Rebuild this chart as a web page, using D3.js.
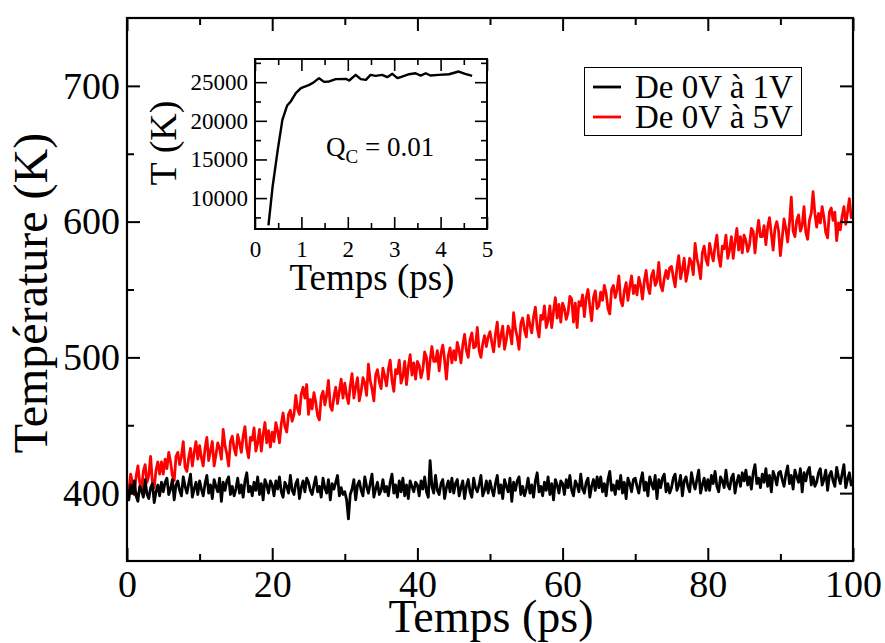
<!DOCTYPE html>
<html><head><meta charset="utf-8">
<script src="https://cdn.jsdelivr.net/npm/d3@7"></script>
<style>
body{margin:0;background:#fff}
svg{display:block}
svg text{font-family:"Liberation Serif","Times New Roman",serif !important}
</style>
</head><body>
<svg id="chart" width="885" height="643"></svg>
<script>
// ---- Data ----
const seriesNames = ["De 0V à 1V", "De 0V à 5V"];
const seriesColors = ["#000000", "#ff0000"];
// sampling grid: one sample every 0.25 ps from 0 to 100 ps
const timePs = d3.range(401).map(i => i * 0.25);
const temp1V = [
403,395,406,400,409,398,394,405,402,397,410,399,396,404,407,393,401,406,398,408,
401,408,411,399,403,410,395,406,409,402,398,412,405,400,407,414,397,403,408,399,
409,403,398,407,413,400,406,396,410,405,401,411,394,408,402,409,412,399,405,398,
403,411,400,406,397,409,415,401,405,398,408,402,412,399,407,395,410,406,400,409,
406,398,409,403,412,401,397,408,405,400,413,402,399,407,410,396,404,409,401,411,
408,402,399,406,412,401,405,397,411,404,400,410,395,407,403,408,413,398,404,399,
401,395,381,399,403,410,395,406,409,402,398,412,405,400,407,414,397,403,408,399,
402,410,401,405,398,408,414,400,406,397,409,401,411,398,406,396,409,405,401,408,
406,398,409,403,412,401,397,424,405,400,413,402,399,407,410,396,404,409,401,411,
400,407,410,398,404,409,396,405,410,401,397,411,404,401,406,413,398,402,409,400,
409,403,398,407,413,400,406,396,410,405,401,411,394,408,402,409,412,399,405,398,
403,411,400,406,397,409,415,401,405,398,408,402,412,399,407,395,410,406,400,409,
407,399,410,404,413,402,398,409,406,401,414,403,400,408,411,397,405,410,402,412,
404,412,401,407,398,410,416,402,406,399,409,403,413,400,408,396,411,407,401,410,
411,405,400,409,415,402,408,398,412,407,403,413,396,410,404,411,414,401,407,400,
404,411,414,402,406,413,398,409,412,405,401,415,408,403,410,417,400,406,411,402,
410,402,413,407,416,405,401,412,409,404,417,406,403,411,414,400,408,413,405,415,
409,417,406,412,403,415,421,407,411,404,414,408,418,405,413,401,416,412,406,415,
416,410,405,414,420,407,413,403,417,412,408,418,401,415,409,416,419,406,412,405,
408,415,418,406,410,417,402,413,416,409,405,419,412,407,414,421,404,410,415,406,
409
];
const temp5V = [
398,401,414,408,399,412,420,408,403,416,421,408,413,427,408,404,417,423,414,423,
414,425,418,430,423,413,409,427,430,421,427,438,419,416,426,433,420,430,438,425,
435,426,420,433,441,424,431,438,420,428,437,433,425,447,435,429,420,438,442,433,
428,443,437,430,442,449,433,426,441,439,448,431,437,447,431,443,452,437,446,434,
445,438,452,446,437,451,459,449,445,458,461,453,458,472,462,458,473,478,470,480,
458,469,462,474,467,457,454,471,475,465,472,483,464,461,471,478,466,475,484,470,
481,472,466,479,488,470,478,485,468,475,485,481,472,495,483,477,468,487,491,482,
477,492,486,479,491,498,483,475,491,488,498,481,486,497,480,493,502,487,496,484,
497,494,485,491,504,500,484,498,508,497,497,505,490,503,509,498,484,501,507,496,
505,498,511,505,496,509,517,505,500,513,518,507,508,522,505,500,510,516,508,515,
519,511,504,517,526,508,516,523,506,513,523,519,510,533,521,515,506,525,529,520,
515,531,524,518,530,537,522,515,531,528,538,522,527,538,522,534,544,529,539,526,
540,536,528,533,545,543,526,540,522,541,538,546,530,544,550,538,527,544,549,536,
538,548,542,553,547,536,532,550,553,544,550,560,542,538,549,555,542,552,560,547,
553,546,559,553,543,556,564,552,547,560,564,553,556,570,553,549,558,564,558,566,
567,559,552,566,575,558,565,573,556,563,573,570,561,584,573,567,558,577,582,572,
568,584,577,571,582,590,574,567,582,580,590,573,579,589,573,585,595,579,589,577,
590,586,578,583,595,593,577,591,601,589,589,597,583,596,603,591,579,595,600,593,
575,588,602,595,585,599,618,593,589,601,605,593,597,611,592,587,601,606,622,606,
596,606,599,611,603,592,588,607,610,601,607,586,599,594,604,611,598,607,617,603,
608
];
const insetTime = [0.29,0.38,0.49,0.59,0.69,0.77,0.88,0.99,1.17,1.27,1.38,1.49,1.6,1.74,1.96,2.03,2.17,2.28,2.39,2.49,2.6,2.74,2.85,2.96,3.07,3.17,3.32,3.46,3.57,3.68,3.78,3.96,4.18,4.39,4.53,4.68];
const insetTemp = [6470,11500,16250,20130,21940,22500,23580,24220,24650,25000,25520,25040,25090,25390,25430,25215,25950,25390,25300,25950,25820,25950,25650,26080,25520,25730,26030,26160,25860,26160,25860,25950,26030,26380,26080,25820];
const mainXTicks = [0,20,40,60,80,100];
const mainXMinor = [10,30,50,70,90];
const mainYTicks = [400,500,600,700];
const mainYMinor = [450,550,650];
const insetXTicks = [0,1,2,3,4,5];
const insetXMinor = [0.5,1.5,2.5,3.5,4.5];
const insetYTicks = [10000,15000,20000,25000];
const insetYMinor = [7500,12500,17500,22500,27500];

// ---- Drawing ----
const FONT = '"Liberation Serif", "Times New Roman", serif';
const svg = d3.select("#chart");

function frameAxes(g, x, y, opt) {
  const [x0, x1] = x.range(), [y0, y1] = y.range();
  const groups = [
    {ax: () => d3.axisBottom(x), tr: `translate(0,${y0})`, lab: true, maj: opt.xMajor, min: opt.xMinor, pad: opt.xPad, fmt: opt.xFmt},
    {ax: () => d3.axisTop(x), tr: `translate(0,${y1})`, lab: false, maj: opt.xMajor, min: opt.xMinor, pad: 0, fmt: null},
    {ax: () => d3.axisLeft(y), tr: `translate(${x0},0)`, lab: true, maj: opt.yMajor, min: opt.yMinor, pad: opt.yPad, fmt: opt.yFmt},
    {ax: () => d3.axisRight(y), tr: `translate(${x1},0)`, lab: false, maj: opt.yMajor, min: opt.yMinor, pad: 0, fmt: null},
  ];
  groups.forEach(s => {
    const a = g.append("g").attr("transform", s.tr).call(s.ax().tickValues(s.maj).tickSize(-opt.major)
      .tickPadding(s.pad).tickFormat(s.lab ? s.fmt : () => ""));
    a.attr("font-family", null).attr("font-size", null);
    a.select(".domain").remove();
    a.selectAll("line").attr("stroke", "#000").attr("stroke-width", opt.tw);
    a.selectAll("text").attr("fill", "#000")
      .style("font-family", FONT).style("font-size", opt.tickFont + "px");
    const m = g.append("g").attr("transform", s.tr).call(s.ax().tickValues(s.min).tickSize(-opt.minor).tickFormat(() => ""));
    m.select(".domain").remove();
    m.selectAll("line").attr("stroke", "#000").attr("stroke-width", opt.tw);
  });
  g.append("rect").attr("x", x0).attr("y", y1).attr("width", x1 - x0).attr("height", y0 - y1)
    .attr("fill", "none").attr("stroke", "#000").attr("stroke-width", opt.fw);
}

// Main plot
const x = d3.scaleLinear().domain([0, 100]).range([127, 853]);
const y = d3.scaleLinear().domain([350, 750]).range([561, 18]);

const defs = svg.append("defs");
defs.append("clipPath").attr("id", "clipMain")
  .append("rect").attr("x", 127).attr("y", 18).attr("width", 726).attr("height", 543);

const line = d3.line().x((d, i) => x(timePs[i])).y(d => y(d));
const plotG = svg.append("g").attr("clip-path", "url(#clipMain)");
plotG.append("path").datum(temp5V).attr("d", line).attr("fill", "none")
  .attr("stroke", seriesColors[1]).attr("stroke-width", 2.8).attr("stroke-linejoin", "round");
plotG.append("path").datum(temp1V).attr("d", line).attr("fill", "none")
  .attr("stroke", seriesColors[0]).attr("stroke-width", 2.8).attr("stroke-linejoin", "round");

frameAxes(svg.append("g"), x, y, {
  xMajor: mainXTicks, xMinor: mainXMinor, yMajor: mainYTicks, yMinor: mainYMinor,
  major: 13, minor: 7, tw: 2, fw: 2.2, xPad: 9, yPad: 7, tickFont: 38,
  xFmt: d3.format("d"), yFmt: d3.format("d")
});

function txt(sel) { return sel.append("text").style("font-family", FONT).attr("fill", "#000"); }

txt(svg).attr("x", 491).attr("y", 632).attr("text-anchor", "middle")
  .style("font-size", "46px").text("Temps (ps)");
txt(svg).attr("transform", "translate(47,293) rotate(-90)").attr("text-anchor", "middle")
  .style("font-size", "48px").text("Température (K)");

// Legend
const lg = svg.append("g");
lg.append("rect").attr("x", 584.5).attr("y", 67.5).attr("width", 217).attr("height", 68)
  .attr("fill", "#fff").attr("stroke", "#000").attr("stroke-width", 1);
seriesNames.forEach((n, i) => {
  const yy = 87 + i * 30;
  lg.append("line").attr("x1", 593).attr("x2", 621).attr("y1", yy).attr("y2", yy)
    .attr("stroke", seriesColors[i]).attr("stroke-width", 2.8);
  txt(lg).attr("x", 635).attr("y", yy + 11).style("font-size", "33px").text(n);
});

// Inset
const ix = d3.scaleLinear().domain([0, 5]).range([255, 487]);
const iy = d3.scaleLinear().domain([6000, 28000]).range([229, 59]);
svg.append("rect").attr("x", 255).attr("y", 59).attr("width", 232).attr("height", 170).attr("fill", "#fff");
defs.append("clipPath").attr("id", "clipInset")
  .append("rect").attr("x", 255).attr("y", 59).attr("width", 232).attr("height", 170);
const iline = d3.line().x((d, i) => ix(insetTime[i])).y(d => iy(d));
svg.append("g").attr("clip-path", "url(#clipInset)").append("path").datum(insetTemp)
  .attr("d", iline).attr("fill", "none").attr("stroke", "#000").attr("stroke-width", 2.4)
  .attr("stroke-linejoin", "round");

frameAxes(svg.append("g"), ix, iy, {
  xMajor: insetXTicks, xMinor: insetXMinor, yMajor: insetYTicks, yMinor: insetYMinor,
  major: 12, minor: 6, tw: 1.6, fw: 2, xPad: 12, yPad: 7, tickFont: 23,
  xFmt: d3.format("d"), yFmt: d3.format("d")
});

txt(svg).attr("x", 372).attr("y", 290).attr("text-anchor", "middle")
  .style("font-size", "37px").text("Temps (ps)");
txt(svg).attr("transform", "translate(176,143) rotate(-90)").attr("text-anchor", "middle")
  .style("font-size", "38px").text("T (K)");

const q = txt(svg).attr("x", 326).attr("y", 156).style("font-size", "27px");
q.append("tspan").text("Q");
q.append("tspan").style("font-size", "19px").attr("dy", 7).text("C");
q.append("tspan").attr("dy", -7).text(" = 0.01");
</script>
</body></html>
